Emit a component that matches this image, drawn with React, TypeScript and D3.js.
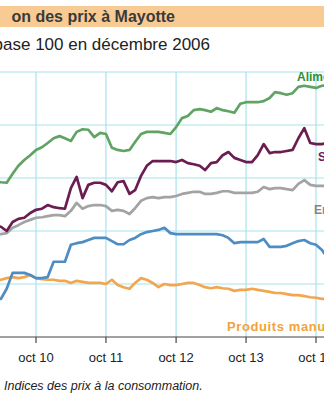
import React from "react";
import * as d3 from "d3";

// Monthly observations, March 2010 -> December 2014
const startYear = 2010;
const startMonth = 2; // March (0-based)

const alimentation = [
  109.4, 109.2, 109.1, 110.8, 112.3, 113.4, 114.3, 115.3, 115.8, 116.6,
  117.5, 117.9, 117.5, 117.0, 118.7, 119.2, 119.1, 117.7, 118.5, 118.3,
  115.7, 115.3, 115.1, 115.3, 116.8, 118.3, 118.7, 118.7, 118.7, 118.5,
  118.3, 119.6, 121.3, 121.7, 122.8, 123.0, 122.8, 122.5, 123.2, 122.8,
  122.6, 122.3, 124.0, 124.3, 124.3, 124.3, 124.5, 125.1, 126.2, 126.0,
  125.7, 126.0, 127.2, 127.4, 127.2, 127.0, 127.4, 127.5,
];
const services = [
  100.9, 100.8, 100.0, 101.7, 102.3, 102.5, 103.4, 104.0, 104.2, 104.9,
  104.5, 104.3, 104.2, 108.1, 110.2, 106.2, 108.7, 109.1, 109.1, 108.7,
  107.5, 109.2, 109.4, 107.0, 107.7, 110.4, 112.3, 113.2, 113.2, 113.2,
  113.2, 113.0, 113.4, 112.8, 112.6, 112.3, 111.5, 112.8, 113.0, 114.3,
  114.9, 113.8, 113.4, 113.0, 113.0, 114.3, 116.4, 114.7, 114.9, 114.9,
  115.1, 115.3, 117.5, 119.4, 116.6, 116.4, 116.4, 116.6,
];
const ensemble = [
  99.4, 99.4, 99.6, 100.6, 101.1, 101.7, 102.1, 102.5, 102.6, 102.8,
  103.0, 103.0, 102.8, 103.8, 105.3, 104.2, 104.7, 104.9, 104.9, 104.7,
  103.8, 104.0, 103.8, 103.2, 104.3, 105.7, 106.2, 106.4, 106.2, 106.4,
  106.4, 106.6, 107.0, 107.2, 107.4, 107.4, 107.0, 107.0, 107.2, 107.5,
  107.5, 107.2, 107.2, 107.2, 107.2, 107.4, 108.3, 107.9, 108.1, 108.1,
  107.9, 107.7, 108.9, 109.6, 108.7, 108.5, 108.5, 108.5,
];
const energie = [
  87.2, 87.2, 89.1, 92.1, 92.1, 92.1, 91.7, 91.1, 91.1, 91.3,
  94.2, 94.2, 94.2, 97.4, 97.7, 97.9, 98.3, 98.7, 98.7, 98.7,
  98.1, 97.5, 97.5, 98.3, 98.7, 99.4, 99.8, 100.0, 100.2, 100.6,
  99.6, 99.4, 99.4, 99.4, 99.4, 99.4, 99.4, 99.4, 99.4, 99.2,
  98.7, 97.7, 97.9, 97.9, 97.9, 97.9, 98.5, 97.0, 97.0, 97.0,
  97.2, 97.7, 98.1, 98.3, 97.7, 97.4, 96.4, 94.9,
];
const produitsManufactures = [
  90.6, 90.8, 91.1, 91.3, 91.1, 91.3, 91.7, 91.1, 90.9, 90.8,
  90.8, 90.6, 90.6, 90.2, 90.6, 90.4, 90.2, 90.2, 90.2, 90.0,
  90.8, 89.8, 89.4, 89.1, 90.2, 91.1, 90.8, 90.2, 89.4, 90.0,
  89.8, 89.8, 90.0, 90.2, 90.2, 89.8, 89.4, 89.2, 89.4, 89.2,
  89.1, 88.7, 88.9, 88.9, 89.1, 88.9, 88.7, 88.5, 88.3, 88.3,
  88.1, 87.9, 87.9, 87.7, 87.5, 87.4, 87.2, 87.2,
];

const tickYears = [2010, 2011, 2012, 2013, 2014];
const tickLabels = ["oct 10", "oct 11", "oct 12", "oct 13", "oct 14"];
const gridValues = [90, 100, 110, 120, 130];

const title = "on des prix à Mayotte";
const subtitle = "base 100 en décembre 2006";
const caption = "Indices des prix à la consommation.";

const seriesList = [
  { name: "Produits manufacturés", values: produitsManufactures, color: "#f2a650" },
  { name: "Energie", values: energie, color: "#4e8cc4" },
  { name: "Ensemble", values: ensemble, color: "#a3a3a3" },
  { name: "Services", values: services, color: "#6b1d52" },
  { name: "Alimentation", values: alimentation, color: "#5fa462" },
];

const W = 324;
const H = 400;
const FONT = "Arial, 'Liberation Sans', sans-serif";

export default function App() {
  const x = d3
    .scaleTime()
    .domain([new Date(2010, 9, 1), new Date(2014, 9, 1)])
    .range([36, 316]);
  const y = d3.scaleLinear().domain([80, 130]).range([337, 72]);

  const dateOf = (i: number) => new Date(startYear, startMonth + i, 1);
  const line = d3
    .line<number>()
    .x((_, i) => x(dateOf(i)))
    .y((v) => y(v));

  const tickDates = tickYears.map((yr) => new Date(yr, 9, 1));
  const plotTop = y(130);
  const plotBottom = y(80);

  return (
    <svg
      width={W}
      height={H}
      style={{ position: "absolute", left: 0, top: 0, background: "#fff" }}
      fontFamily={FONT}
    >
      <defs>
        <clipPath id="clip">
          <rect x={0} y={0} width={W} height={H} />
        </clipPath>
      </defs>
      {/* title band */}
      <rect x={0} y={6} width={W} height={21} fill="#f8cb95" />
      <text x={175} y={22} textAnchor="end" fontSize={16} fontWeight="bold" fill="#3a3a3a">
        {title}
      </text>
      <text x={210} y={50} textAnchor="end" fontSize={17} fill="#222">
        {subtitle}
      </text>

      {/* grid */}
      {gridValues.map((v) => (
        <line key={"h" + v} x1={0} x2={W} y1={y(v)} y2={y(v)} stroke="#a8e2ec" strokeWidth={1.2} />
      ))}
      {tickDates.map((d, i) => (
        <line key={"v" + i} x1={x(d)} x2={x(d)} y1={plotTop} y2={plotBottom} stroke="#a8e2ec" strokeWidth={1.2} />
      ))}

      {/* series */}
      <g clipPath="url(#clip)">
        {seriesList.map((s) => (
          <path
            key={s.name}
            d={line(s.values) || ""}
            fill="none"
            stroke={s.color}
            strokeWidth={2.7}
            strokeLinejoin="round"
            strokeLinecap="round"
          />
        ))}
      </g>

      {/* axis */}
      <line x1={0} x2={W} y1={plotBottom} y2={plotBottom} stroke="#444" strokeWidth={1.2} />
      {tickDates.map((d, i) => (
        <g key={"t" + i}>
          <line x1={x(d)} x2={x(d)} y1={plotBottom} y2={plotBottom + 6} stroke="#444" strokeWidth={1.2} />
          <text x={x(d)} y={362} textAnchor="middle" fontSize={13} fill="#222">
            {tickLabels[i]}
          </text>
        </g>
      ))}

      {/* series labels */}
      <text x={297} y={81} fontSize={12} fontWeight="bold" fill="#2f8f30">Alimentation</text>
      <text x={318} y={161} fontSize={12} fontWeight="bold" fill="#6b1d52">Services</text>
      <text x={314} y={214} fontSize={12} fontWeight="bold" fill="#858585">Ensemble</text>
      <text x={227} y={331} fontSize={13} fontWeight="bold" fill="#f3a23a" letterSpacing={0.6}>
        Produits manufacturés
      </text>

      <text x={4} y={390} fontSize={12.5} fontStyle="italic" fill="#222">
        {caption}
      </text>
    </svg>
  );
}
